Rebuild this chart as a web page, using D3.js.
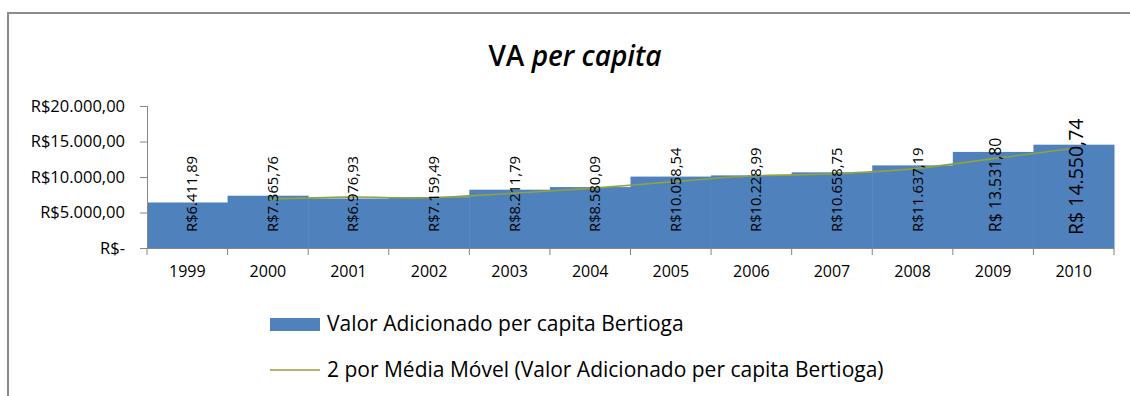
<!DOCTYPE html>
<html>
<head>
<meta charset="utf-8">
<script src="https://cdn.jsdelivr.net/npm/d3@7"></script>
<style>
  html, body { margin: 0; padding: 0; background: #fff; }
  svg { display: block; font-family: "Open Sans", "Noto Sans", sans-serif; }
</style>
</head>
<body>
<svg id="chart" width="1130" height="396"></svg>
<script>
// Valor Adicionado per capita — Bertioga
const years = ["1999", "2000", "2001", "2002", "2003", "2004", "2005", "2006", "2007", "2008", "2009", "2010"];
const vaPerCapita = [6411.89, 7365.76, 6976.93, 7159.49, 8211.79, 8580.09, 10058.54, 10228.99, 10658.75, 11637.19, 13531.80, 14550.74];
// 2-period moving average (first point undefined)
const movingAvg2 = [null, 6888.83, 7171.35, 7068.21, 7685.64, 8395.94, 9319.32, 10143.77, 10443.87, 11147.97, 12584.50, 14041.27];
const yTicks = [0, 5000, 10000, 15000, 20000];
const seriesName = "Valor Adicionado per capita Bertioga";
const trendName = "2 por Média Móvel (Valor Adicionado per capita Bertioga)";

const svg = d3.select("#chart");
const plot = { left: 147, right: 1114, top: 106, bottom: 248 };

const barColor = "#4f81bd";
const lineColor = "#8ea23f";
const axisColor = "#868686";

const brl = d3.formatLocale({ decimal: ",", thousands: ".", grouping: [3], currency: ["R$", ""] });
const money = brl.format("$,.2f");

// Chart frame
svg.append("rect")
  .attr("x", 8).attr("y", 13).attr("width", 1200).attr("height", 500)
  .attr("fill", "#fff").attr("stroke", "#8c8c8c").attr("stroke-width", 2);

// Title
const title = svg.append("text")
  .attr("x", 575).attr("y", 66)
  .attr("text-anchor", "middle")
  .attr("font-size", 28).attr("font-weight", 600).attr("fill", "#000");
title.append("tspan").text("VA ");
title.append("tspan").attr("font-style", "italic").text("per capita");

const x = d3.scaleBand().domain(years).range([plot.left, plot.right]).padding(0);
const y = d3.scaleLinear().domain([0, 20000]).range([plot.bottom, plot.top]);

// Bars
svg.append("g").selectAll("rect")
  .data(vaPerCapita)
  .join("rect")
  .attr("x", (d, i) => x(years[i]))
  .attr("width", x.bandwidth() + 0.5)
  .attr("y", d => y(d))
  .attr("height", d => y(0) - y(d))
  .attr("fill", barColor);

// Moving average trend line
const linePts = movingAvg2
  .map((v, i) => ({ v, yr: years[i] }))
  .filter(p => p.v != null);
svg.append("path")
  .datum(linePts)
  .attr("fill", "none")
  .attr("stroke", lineColor)
  .attr("stroke-width", 1.6)
  .attr("d", d3.line()
    .x(p => x(p.yr) + x.bandwidth() / 2)
    .y(p => y(p.v))
    .curve(d3.curveCatmullRom.alpha(0.5)));

// Y axis
const yAxis = svg.append("g")
  .attr("transform", `translate(${plot.left},0)`)
  .call(d3.axisLeft(y).tickValues(yTicks).tickSize(7).tickPadding(15)
    .tickFormat(d => d === 0 ? "R$-" : money(d)));
yAxis.select(".domain").attr("stroke", axisColor);
yAxis.selectAll(".tick line").attr("stroke", axisColor);
yAxis.selectAll(".tick text")
  .attr("font-family", "Open Sans").attr("font-size", 16.5).attr("fill", "#000");

// X axis: ticks sit on the category boundaries
const xAxis = svg.append("g")
  .attr("transform", `translate(0,${plot.bottom})`)
  .call(d3.axisBottom(x).tickSize(0).tickPadding(18));
xAxis.select(".domain").attr("stroke", axisColor);
xAxis.selectAll(".tick text")
  .attr("font-family", "Open Sans").attr("font-size", 16).attr("fill", "#000");
const bounds = years.map(yr => x(yr)).concat([x(years[years.length - 1]) + x.bandwidth()]);
xAxis.selectAll("line.bound")
  .data(bounds)
  .join("line")
  .attr("class", "bound")
  .attr("x1", d => d).attr("x2", d => d)
  .attr("y1", 0).attr("y2", 7)
  .attr("stroke", axisColor);

// Value labels, rotated, anchored near the base of each bar
const bigLabel = { "2009": 15.8, "2010": 19.5 };
svg.append("g").selectAll("text")
  .data(vaPerCapita)
  .join("text")
  .attr("transform", (d, i) => {
    const big = bigLabel[years[i]];
    const cx = x(years[i]) + x.bandwidth() / 2 + (big ? 2 : 4);
    return `translate(${cx},${y(0) - (years[i] === "2010" ? 13 : 16)}) rotate(-90)`;
  })
  .attr("dominant-baseline", "central")
  .attr("font-size", (d, i) => bigLabel[years[i]] || 14.8)
  .attr("fill", "#000")
  .text((d, i) => bigLabel[years[i]] ? money(d).replace("R$", "R$ ") : money(d));

// Legend
const legend = svg.append("g").attr("font-size", 21).attr("fill", "#000");
legend.append("rect")
  .attr("x", 270).attr("y", 318).attr("width", 50).attr("height", 13)
  .attr("fill", barColor);
legend.append("text").attr("x", 327).attr("y", 331).text(seriesName);
legend.append("line")
  .attr("x1", 270).attr("x2", 320).attr("y1", 370).attr("y2", 370)
  .attr("stroke", lineColor).attr("stroke-width", 1.6);
legend.append("text").attr("x", 327).attr("y", 377).text(trendName);
</script>
</body>
</html>
